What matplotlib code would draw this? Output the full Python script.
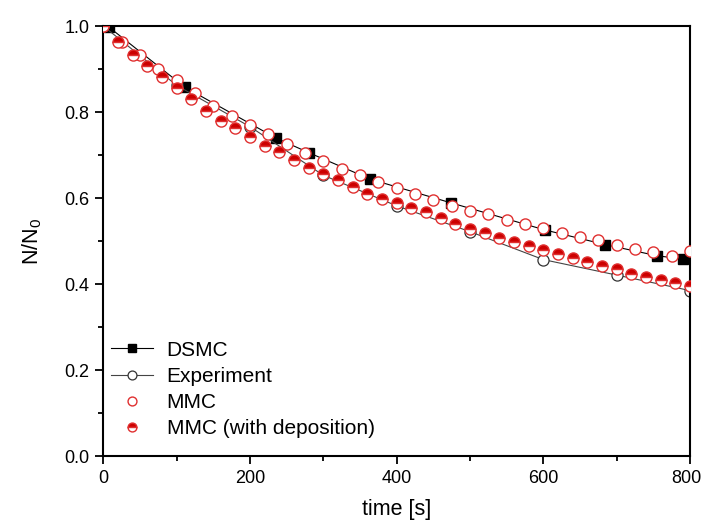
import matplotlib
matplotlib.use("Agg")
import matplotlib.pyplot as plt
import matplotlib.transforms as mtransforms
from matplotlib.ticker import MultipleLocator, FormatStrFormatter

plt.rcParams['font.family'] = ['Liberation Sans', 'DejaVu Sans']
plt.rcParams['mathtext.default'] = 'regular'

# DSMC
dsmc_t = [8, 111, 235, 281, 364, 474, 602, 684, 755, 791]
dsmc_v = [0.997, 0.858, 0.740, 0.705, 0.644, 0.589, 0.526, 0.492, 0.466, 0.458]

# Experiment
exp_t = [0, 100, 200, 300, 400, 500, 600, 700, 800]
exp_v = [1.0, 0.862, 0.766, 0.653, 0.582, 0.522, 0.457, 0.421, 0.385]

# MMC (every 25 s)
mmc_t = list(range(0, 801, 25))
mmc_v = [1.0, 0.963, 0.932, 0.901, 0.874, 0.844, 0.815, 0.792, 0.770, 0.749,
         0.726, 0.706, 0.687, 0.668, 0.653, 0.638, 0.623, 0.609, 0.595, 0.582,
         0.570, 0.562, 0.550, 0.539, 0.530, 0.519, 0.510, 0.502, 0.491, 0.481,
         0.474, 0.465, 0.476]

# MMC with deposition (every 20 s)
dep_t = list(range(0, 801, 20))
dep_v = [1.0, 0.963, 0.933, 0.908, 0.881, 0.856, 0.831, 0.803, 0.780, 0.763,
         0.742, 0.721, 0.707, 0.688, 0.670, 0.656, 0.642, 0.625, 0.610, 0.597,
         0.588, 0.576, 0.567, 0.553, 0.539, 0.528, 0.518, 0.508, 0.497, 0.488,
         0.480, 0.470, 0.460, 0.451, 0.443, 0.434, 0.423, 0.417, 0.409, 0.402,
         0.395]

red = '#cc0000'
red_edge = '#e03030'

fig = plt.figure(figsize=(7.04, 5.23), dpi=100)
ax = fig.add_axes([0.147, 0.128, 0.833, 0.822])

ax.plot(dsmc_t, dsmc_v, color='black', lw=0.8, marker='s', ms=7,
        mfc='black', mec='black', label='DSMC', zorder=2)
ax.plot(exp_t, exp_v, color='#444444', lw=0.8, marker='o', ms=8,
        mfc='white', mec='#333333', mew=0.9, label='Experiment', zorder=2)
ax.plot(mmc_t, mmc_v, ls='none', marker='o', ms=8, mfc='white',
        mec=red_edge, mew=1.0, label='MMC', zorder=3)
ax.plot(dep_t, dep_v, ls='none', marker='o', ms=8, fillstyle='top',
        mfc=red, mfcalt='white', mec=red_edge, mew=1.0,
        label='MMC (with deposition)', zorder=4)

ax.set_xlim(0, 800)
ax.set_ylim(0, 1.0)
ax.xaxis.set_major_locator(MultipleLocator(200))
ax.xaxis.set_minor_locator(MultipleLocator(100))
ax.yaxis.set_major_locator(MultipleLocator(0.2))
ax.yaxis.set_minor_locator(MultipleLocator(0.1))
ax.yaxis.set_major_formatter(FormatStrFormatter('%.1f'))

for s in ax.spines.values():
    s.set_linewidth(1.5)
ax.tick_params(which='major', direction='out', length=6, width=1.3,
               labelsize=13, top=False, right=False, pad=4)
ax.tick_params(which='minor', direction='out', length=3.5, width=1.3,
               top=False, right=False)

ax.set_xlabel('time [s]', fontsize=15.5, labelpad=9)
ax.set_ylabel('N/N$_0$', fontsize=15.5, labelpad=15)

leg = ax.legend(loc='lower left', bbox_to_anchor=(-0.008, 0.012), frameon=False,
                fontsize=15, numpoints=1, handlelength=2.0, handletextpad=0.65,
                labelspacing=0.35, markerscale=0.8, borderaxespad=0.2)

fig.canvas.draw()
tick = ax.xaxis.get_major_ticks()[-1]
for t in ax.xaxis.get_major_ticks():
    if abs(t.get_loc() - 800) < 1e-6:
        tick = t
tick.label1.set_transform(tick.label1.get_transform() +
                          mtransforms.ScaledTranslation(-4 / 100, 0, fig.dpi_scale_trans))

fig.savefig('out.png', dpi=100)
